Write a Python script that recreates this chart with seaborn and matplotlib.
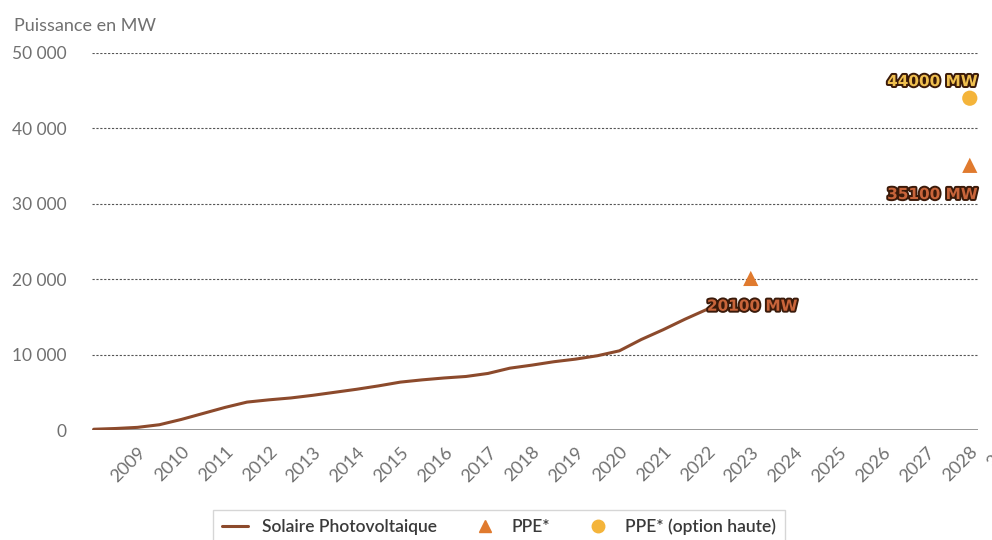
import matplotlib
matplotlib.use("Agg")
import matplotlib.pyplot as plt
import matplotlib.patheffects as pe
from matplotlib.lines import Line2D
import seaborn as sns
import pandas as pd

# puissance solaire photovoltaique installee (MW)
annees = [2008.0, 2008.5, 2009.0, 2009.5, 2010.0, 2010.5, 2011.0, 2011.5,
          2012.0, 2012.5, 2013.0, 2013.5, 2014.0, 2014.5, 2015.0, 2015.5,
          2016.0, 2016.5, 2017.0, 2017.5, 2018.0, 2018.5, 2019.0, 2019.5,
          2020.0, 2020.5, 2021.0, 2021.5, 2022.0, 2022.1]
puissance = [100, 200, 350, 700, 1400, 2200, 3000, 3700,
             4000, 4250, 4600, 5000, 5400, 5850, 6350, 6650,
             6900, 7100, 7500, 8200, 8600, 9050, 9400, 9850,
             10500, 12000, 13300, 14700, 16000, 16300]

ppe_annees = [2023, 2028]
ppe_valeurs = [20100, 35100]
haute_annees = [2028]
haute_valeurs = [44000]

ticks_annees = list(range(2009, 2029))
ticks_y = [0, 10000, 20000, 30000, 40000, 50000]

c_ligne = "#8c4a2c"
c_ppe = "#e07a2e"
c_haute = "#f4b43a"
c_texte = "#707070"

sns.set_theme(style="white")
plt.rcParams["font.family"] = ["Lato", "DejaVu Sans"]

df = pd.DataFrame({"annee": annees, "mw": puissance})
df_ppe = pd.DataFrame({"annee": ppe_annees, "mw": ppe_valeurs})
df_haute = pd.DataFrame({"annee": haute_annees, "mw": haute_valeurs})

fig = plt.figure(figsize=(9.92, 5.40), dpi=100)
ax = fig.add_axes([0.0927, 0.2037, 0.8933, 0.6982])

for v in ticks_y[1:]:
    ax.axhline(v, color="#555555", lw=0.8, ls=(0, (2, 1.5)), zorder=1)
ax.axhline(0, color="#888888", lw=1.2, zorder=1)

sns.lineplot(data=df, x="annee", y="mw", ax=ax, color=c_ligne, lw=2.2, zorder=3)
sns.scatterplot(data=df_ppe, x="annee", y="mw", ax=ax, marker="^", s=120,
                color=c_ppe, edgecolor="none", zorder=4)
sns.scatterplot(data=df_haute, x="annee", y="mw", ax=ax, marker="o", s=120,
                color=c_haute, edgecolor="none", zorder=4)

ax.set_xlim(2007.96, 2028.19)
ax.set_ylim(0, 50000)
ax.set_xticks(ticks_annees)
ax.set_xticklabels([str(a) for a in ticks_annees], rotation=45, ha="right",
                   va="top", rotation_mode="anchor", color=c_texte, fontsize=13)
# libelle 2029 coupe au bord, comme sur l'original
ax.text(2029, 0, "2029", transform=ax.get_xaxis_transform(), rotation=45,
        ha="right", va="top", rotation_mode="anchor", color=c_texte,
        fontsize=13, clip_on=False)
ax.tick_params(axis="x", pad=10, length=0)
ax.set_yticks(ticks_y)
ax.set_yticklabels([f"{v:,}".replace(",", " ") if v else "0" for v in ticks_y],
                   color=c_texte, fontsize=12.5)
ax.tick_params(axis="y", length=0, pad=18)
ax.set_xlabel("")
ax.set_ylabel("")
for s in ax.spines.values():
    s.set_visible(False)

fig.text(0.014, 0.943, "Puissance en MW", color=c_texte, fontsize=13)

contour = [pe.withStroke(linewidth=2.8, foreground="#3a1a0a")]
ax.annotate(f"{ppe_valeurs[0]} MW", (ppe_annees[0], ppe_valeurs[0]),
            xytext=(1, -20), textcoords="offset points", ha="center", va="center",
            fontsize=11, fontweight="bold", color="#c8643a", family="DejaVu Sans",
            path_effects=contour, zorder=5)
ax.annotate(f"{ppe_valeurs[1]} MW", (ppe_annees[1], ppe_valeurs[1]),
            xytext=(-27, -21), textcoords="offset points", ha="center", va="center",
            fontsize=11, fontweight="bold", color="#c8643a", family="DejaVu Sans",
            path_effects=contour, zorder=5, annotation_clip=False)
ax.annotate(f"{haute_valeurs[0]} MW", (haute_annees[0], haute_valeurs[0]),
            xytext=(-27, 12), textcoords="offset points", ha="center", va="center",
            fontsize=11, fontweight="bold", color="#f0c050", family="DejaVu Sans",
            path_effects=contour, zorder=5, annotation_clip=False)

handles = [
    Line2D([], [], color=c_ligne, lw=2.2),
    Line2D([], [], color=c_ppe, marker="^", ls="none", markersize=9),
    Line2D([], [], color=c_haute, marker="o", ls="none", markersize=9),
]
noms = ["Solaire Photovoltaique", "PPE*", "PPE* (option haute)"]
leg = fig.legend(handles, noms, loc="upper center", bbox_to_anchor=(0.503, 0.072),
                 ncol=3, frameon=True, fancybox=False,
                 handlelength=1.5, columnspacing=2.0, borderpad=0.5,
                 prop={"size": 12.5, "weight": "semibold"})
leg.get_frame().set_edgecolor("#cccccc")
for t in leg.get_texts():
    t.set_color("#3a3a3a")

fig.savefig("out.png", dpi=100)
